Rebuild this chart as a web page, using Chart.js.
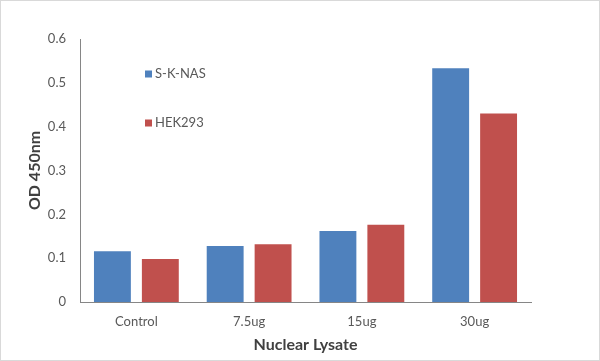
<!DOCTYPE html>
<html>
<head>
<meta charset="utf-8">
<script src="https://cdn.jsdelivr.net/npm/chart.js@4/dist/chart.umd.min.js"></script>
<style>
  html, body { margin: 0; padding: 0; background: #fff; }
  canvas { display: block; }
</style>
</head>
<body>
<canvas id="c" width="600" height="361"></canvas>
<script>
const categories = ['Control', '7.5ug', '15ug', '30ug'];
const seriesNames = ['S-K-NAS', 'HEK293'];
const sknasValues = [0.116, 0.128, 0.162, 0.533];
const hek293Values = [0.098, 0.132, 0.176, 0.430];
const yTickLabels = ['0', '0.1', '0.2', '0.3', '0.4', '0.5', '0.6'];
const colors = ['#4F81BD', '#C0504D'];
const FONT = 'Lato, "Open Sans", "Liberation Sans", sans-serif';

const borderPlugin = {
  id: 'outerBorder',
  beforeDraw(chart) {
    const ctx = chart.ctx;
    ctx.save();
    ctx.fillStyle = '#fff';
    ctx.fillRect(0, 0, chart.width, chart.height);
    ctx.strokeStyle = '#d9d9d9';
    ctx.lineWidth = 1;
    ctx.strokeRect(0.5, 0.5, chart.width - 1, chart.height - 1);
    ctx.restore();
  }
};

const legendPlugin = {
  id: 'insideLegend',
  afterDraw(chart) {
    const ctx = chart.ctx;
    ctx.save();
    ctx.font = '13px ' + FONT;
    ctx.textBaseline = 'middle';
    const x = chart.chartArea.left + 65;
    const ys = [chart.chartArea.top + 35, chart.chartArea.top + 84];
    chart.data.datasets.forEach((ds, i) => {
      ctx.fillStyle = ds.backgroundColor;
      ctx.fillRect(x, ys[i] - 3.5, 7, 7);
      ctx.fillStyle = '#595959';
      ctx.fillText(ds.label, x + 10, ys[i]);
    });
    ctx.restore();
  }
};

new Chart(document.getElementById('c'), {
  type: 'bar',
  data: {
    labels: categories,
    datasets: [
      { label: seriesNames[0], data: sknasValues, backgroundColor: colors[0] },
      { label: seriesNames[1], data: hek293Values, backgroundColor: colors[1] }
    ]
  },
  options: {
    responsive: false,
    animation: false,
    devicePixelRatio: 1,
    layout: { padding: { left: 0, top: 39, right: 69, bottom: 0 } },
    datasets: { bar: { categoryPercentage: 0.85, barPercentage: 0.77 } },
    plugins: {
      legend: { display: false },
      tooltip: { enabled: false }
    },
    scales: {
      x: {
        grid: { display: false, drawTicks: false },
        border: { display: true, color: '#868686', width: 1 },
        ticks: { color: '#595959', font: { family: FONT, size: 13 }, padding: 12 },
        title: { display: true, text: 'Nuclear Lysate', color: '#404040', font: { family: FONT, size: 16, weight: 'bold' }, padding: { top: 4, bottom: 7 } },
        afterFit(scale) { scale.height = 59; }
      },
      y: {
        min: 0, max: 0.6,
        grid: { display: false, drawTicks: false },
        border: { display: true, color: '#868686', width: 1 },
        ticks: {
          stepSize: 0.1,
          color: '#595959',
          font: { family: FONT, size: 13 },
          padding: 14,
          callback: (v, i) => yTickLabels[i]
        },
        title: { display: true, text: 'OD 450nm', color: '#404040', font: { family: FONT, size: 16, weight: 'bold' }, padding: { top: 25, bottom: 4 } },
        afterFit(scale) { scale.width = 80; }
      }
    }
  },
  plugins: [borderPlugin, legendPlugin]
});
</script>
</body>
</html>
